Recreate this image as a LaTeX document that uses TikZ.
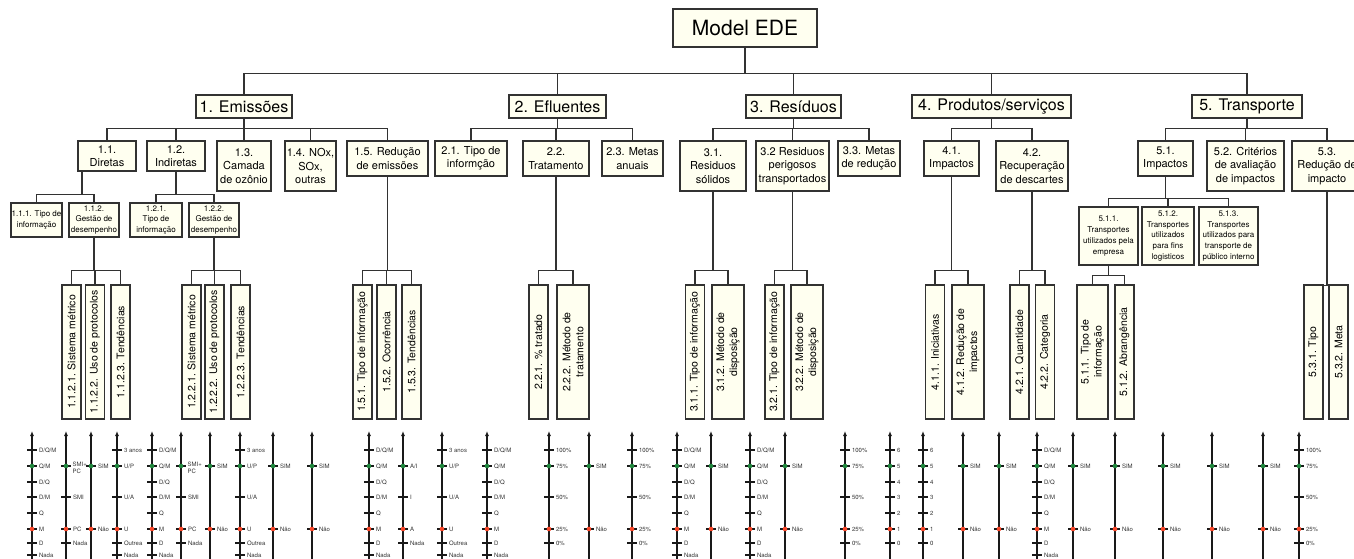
\documentclass[tikz,border=0pt]{standalone}
\usepackage{fontspec}
\setmainfont{TeX Gyre Heros}
\usepackage{tikz}
\usetikzlibrary{arrows.meta}
\definecolor{boxfill}{RGB}{255,255,240}
\definecolor{linegray}{RGB}{50,50,50}
\definecolor{dotgreen}{RGB}{30,135,60}
\definecolor{dotred}{RGB}{250,70,40}

\begin{document}
\begin{tikzpicture}[x=1pt,y=-1pt]
	\tikzstyle{every node}+=[inner sep=0pt]
	\tikzstyle{treebox}=[draw=linegray,line width=1.3pt,fill=boxfill,align=center]
	\tikzstyle{rootbox}=[treebox,font=\fontsize{21}{24}\selectfont]
	\tikzstyle{mainbox}=[treebox,minimum height=23pt,font=\fontsize{16}{18}\selectfont]
	\tikzstyle{subbox}=[treebox,font=\fontsize{11}{13.5}\selectfont]
	\tikzstyle{smallbox}=[treebox,font=\fontsize{8}{10.8}\selectfont]
	\tikzstyle{vbox}=[treebox,rotate=90,minimum width=134pt,font=\fontsize{10.5}{13}\selectfont]
	\tikzstyle{conn}=[draw=linegray,line width=1.3pt]
	\tikzstyle{scaleaxis}=[draw=black!90,line width=1.1pt,-{Latex[length=5pt,width=4pt]}]
	\tikzstyle{tickline}=[draw=black!90,line width=1.1pt]
	\tikzstyle{scalelbl}=[anchor=west,xshift=1.5pt,text=black!80,font=\fontsize{6}{7.2}\selectfont]
	\useasboundingbox (0,0) rectangle (1354,559);

	\node[rootbox,minimum width=144pt,minimum height=38pt] (root) at (745,28) {Model EDE};

	\node[mainbox,minimum width=96pt] (emi) at (244,106.5) {1. Emissões};
	\node[mainbox,minimum width=97pt] (efl) at (557.5,106.5) {2. Efluentes};
	\node[mainbox,minimum width=95pt] (res) at (793.5,106.5) {3. Resíduos};
	\node[mainbox,minimum width=159pt] (pro) at (991.5,106.5) {4. Produtos/serviços};
	\node[mainbox,minimum width=110pt] (tra) at (1247,106.5) {5. Transporte};

	\node[subbox,minimum width=58pt,minimum height=30pt] (n11) at (107,156) {1.1.\\Diretas};
	\node[subbox,minimum width=58pt,minimum height=30pt] (n12) at (176,156) {1.2.\\Indiretas};
	\node[subbox,minimum width=54pt,minimum height=50pt] (n13) at (244,166) {1.3.\\Camada\\de ozônio};
	\node[subbox,minimum width=51pt,minimum height=50pt] (n14) at (310.5,166) {1.4. NOx,\\SOx,\\outras};
	\node[subbox,minimum width=81pt,minimum height=35pt] (n15) at (387.5,158.5) {1.5. Redução\\de emissões};
	\node[subbox,minimum width=72pt,minimum height=35pt] (n21) at (471,158.5) {2.1. Tipo de\\informção};
	\node[subbox,minimum width=66pt,minimum height=35pt] (n22) at (556,158.5) {2.2.\\Tratamento};
	\node[subbox,minimum width=61pt,minimum height=35pt] (n23) at (632.5,158.5) {2.3. Metas\\anuais};
	\node[subbox,minimum width=66pt,minimum height=50pt] (n31) at (713,166) {3.1.\\Residuos\\sólidos};
	\node[subbox,minimum width=73pt,minimum height=50pt] (n32) at (792.5,166) {3.2 Residuos\\perigosos\\transportados};
	\node[subbox,minimum width=62pt,minimum height=35pt] (n33) at (869,158.5) {3.3. Metas\\de redução};
	\node[subbox,minimum width=55pt,minimum height=35pt] (n41) at (951.5,158.5) {4.1.\\Impactos};
	\node[subbox,minimum width=72pt,minimum height=50pt] (n42) at (1032,166) {4.2.\\Recuperação\\de descartes};
	\node[subbox,minimum width=55pt,minimum height=35pt] (n51) at (1165.5,158.5) {5.1.\\Impactos};
	\node[subbox,minimum width=77pt,minimum height=50pt] (n52) at (1245.5,166) {5.2. Critérios\\de avaliação\\de impactos};
	\node[subbox,minimum width=70pt,minimum height=50pt] (n53) at (1327,166) {5.3.\\Redução de\\impacto};

	\node[smallbox,minimum width=51pt,minimum height=34pt] (n111) at (36.5,220) {1.1.1. Tipo de\\informação};
	\node[smallbox,minimum width=50pt,minimum height=34pt] (n112) at (94,220) {1.1.2.\\Gestão de\\desempenho};
	\node[smallbox,minimum width=52pt,minimum height=34pt] (n121) at (156,220) {1.2.1.\\Tipo de\\informação};
	\node[smallbox,minimum width=50pt,minimum height=34pt] (n122) at (214,220) {1.2.2.\\Gestão de\\desempenho};
	\node[smallbox,minimum width=59pt,minimum height=58pt] (n511) at (1108.5,236) {5.1.1.\\Transportes\\utilizados pela\\empresa};
	\node[smallbox,minimum width=52pt,minimum height=58pt] (n512) at (1168,236) {5.1.2.\\Transportes\\utilizados\\para fins\\logisticos};
	\node[smallbox,minimum width=59pt,minimum height=58pt] (n513) at (1228.5,236) {5.1.3.\\Transportes\\utilizados para\\transporte de\\público interno};

	\node[vbox,minimum height=19pt] (v1121) at (71.5,352) {1.1.2.1. Sistema métrico};
	\node[vbox,minimum height=19pt] (v1122) at (95,352) {1.1.2.2. Uso de protocolos};
	\node[vbox,minimum height=19pt] (v1123) at (120.5,352) {1.1.2.3. Tendências};
	\node[vbox,minimum height=19pt] (v1221) at (191.5,352) {1.2.2.1. Sistema métrico};
	\node[vbox,minimum height=19pt] (v1222) at (214.5,352) {1.2.2.2. Uso de protocolos};
	\node[vbox,minimum height=19pt] (v1223) at (240.5,352) {1.2.2.3. Tendências};
	\node[vbox,minimum height=19pt] (v151) at (362.5,352) {1.5.1. Tipo de informação};
	\node[vbox,minimum height=19pt] (v152) at (386.5,352) {1.5.2. Ocorrência};
	\node[vbox,minimum height=19pt] (v153) at (411.5,352) {1.5.3. Tendências};
	\node[vbox,minimum height=19pt] (v221) at (538.5,352) {2.2.1. \% tratado};
	\node[vbox,minimum height=32pt] (v222) at (573,352) {2.2.2. Método de\\tratamento};
	\node[vbox,minimum height=19pt] (v311) at (695,352) {3.1.1. Tipo de informação};
	\node[vbox,minimum height=32pt] (v312) at (728,352) {3.1.2. Método de\\disposição};
	\node[vbox,minimum height=19pt] (v321) at (774.5,352) {3.2.1. Tipo de informação};
	\node[vbox,minimum height=32pt] (v322) at (807,352) {3.2.2. Método de\\disposição};
	\node[vbox,minimum height=19pt] (v411) at (935,352) {4.1.1. Iniciativas};
	\node[vbox,minimum height=32pt] (v412) at (968,352) {4.1.2. Redução de\\impactos};
	\node[vbox,minimum height=19pt] (v421) at (1019.5,352) {4.2.1. Quantidade};
	\node[vbox,minimum height=19pt] (v422) at (1045,352) {4.2.2. Categoria};
	\node[vbox,minimum height=31pt] (v5111) at (1092.5,352) {5.1.1. Tipo de\\informação};
	\node[vbox,minimum height=19pt] (v5112) at (1124.5,352) {5.1.2. Abrangência};
	\node[vbox,minimum height=19pt] (v531) at (1313.5,352) {5.3.1. Tipo};
	\node[vbox,minimum height=19pt] (v532) at (1338.5,352) {5.3.2. Meta};

	\foreach \c in {emi,efl,res,pro,tra}
		\draw[conn] (root.south) -- ++(0,26) -| (\c.north);
	\foreach \c in {n11,n12,n13,n14,n15}
		\draw[conn] (emi.south) -- ++(0,10) -| (\c.north);
	\foreach \c in {n21,n22,n23}
		\draw[conn] (efl.south) -- ++(0,10) -| (\c.north);
	\foreach \c in {n31,n32,n33}
		\draw[conn] (res.south) -- ++(0,10) -| (\c.north);
	\foreach \c in {n41,n42}
		\draw[conn] (pro.south) -- ++(0,10) -| (\c.north);
	\foreach \c in {n51,n52,n53}
		\draw[conn] (tra.south) -- ++(0,10) -| (\c.north);
	\foreach \c in {n111,n112}
		\draw[conn] ([xshift=-25pt]n11.south) -- ++(0,23) -| (\c.north);
	\foreach \c in {n121,n122}
		\draw[conn] (n12.south) -- ++(0,23) -| (\c.north);
	\foreach \c in {n511,n512,n513}
		\draw[conn] (n51.south) -- ++(0,22) -| (\c.north);
	\foreach \c in {v1121,v1122,v1123}
		\draw[conn] (n112.south) -- ++(0,33) -| (\c.east);
	\foreach \c in {v1221,v1222,v1223}
		\draw[conn] (n122.south) -- ++(0,33) -| (\c.east);
	\foreach \c in {v151,v152,v153}
		\draw[conn] (n15.south) -- ++(0,94) -| (\c.east);
	\foreach \c in {v221,v222}
		\draw[conn] (n22.south) -- ++(0,94) -| (\c.east);
	\foreach \c in {v311,v312}
		\draw[conn] (n31.south) -- ++(0,79) -| (\c.east);
	\foreach \c in {v321,v322}
		\draw[conn] (n32.south) -- ++(0,79) -| (\c.east);
	\foreach \c in {v411,v412}
		\draw[conn] (n41.south) -- ++(0,94) -| (\c.east);
	\foreach \c in {v421,v422}
		\draw[conn] (n42.south) -- ++(0,79) -| (\c.east);
	\foreach \c in {v5111,v5112}
		\draw[conn] (n511.south) -- ++(0,10) -| (\c.east);
	\foreach \c in {v531,v532}
		\draw[conn] (n53.south) -- ++(0,94) -| (\c.east);

	\foreach \x in {32,66,91,117,152,181,210,240,273,312,369,403,442,487,549,589,632,677,711,750,785,845,890,923,963,999,1037,1073,1115,1163,1212,1263,1299}{
		\coordinate (bot\x) at (\x,562);
		\coordinate (top\x) at (\x,431);
		\draw[scaleaxis] (bot\x) -- (top\x);
	}
	\foreach \x in {32,152,369,487,677,750,1037}
		\foreach \y/\t in {450/{D/Q/M},466/{Q/M},482/{D/Q},497/{D/M},513/Q,529/M,543/D,555/Nada}
			\draw[tickline] (\x-5,\y) -- (\x+5,\y) node[scalelbl] (l\x-\y) {\t};
	\foreach \x in {66,181}{
		\foreach \y/\t in {497/SMI,529/PC,543/Nada}
			\draw[tickline] (\x-5,\y) -- (\x+5,\y) node[scalelbl] (l\x-\y) {\t};
		\draw[tickline] (\x-5,466) -- (\x+5,466);
		\node[scalelbl,anchor=north west,align=left] (l\x-466) at (\x+5,461.5) {SMI+\\PC};
	}
	\foreach \x in {91,210,273,312,589,711,785,963,999,1073,1115,1163,1212,1263}
		\foreach \y/\t in {466/SIM,529/Não}
			\draw[tickline] (\x-5,\y) -- (\x+5,\y) node[scalelbl] (l\x-\y) {\t};
	\foreach \x in {117,240,442}
		\foreach \y/\t in {450/3 anos,466/{U/P},497/{U/A},529/U,543/Outrea,555/Nada}
			\draw[tickline] (\x-5,\y) -- (\x+5,\y) node[scalelbl] (l\x-\y) {\t};
	\foreach \x in {403}
		\foreach \y/\t in {466/{A/I},497/I,529/A,543/Nada}
			\draw[tickline] (\x-5,\y) -- (\x+5,\y) node[scalelbl] (l\x-\y) {\t};
	\foreach \x in {549,632,845,1299}
		\foreach \y/\t in {450/100\%,466/75\%,497/50\%,529/25\%,543/0\%}
			\draw[tickline] (\x-5,\y) -- (\x+5,\y) node[scalelbl] (l\x-\y) {\t};
	\foreach \x in {890,923}
		\foreach \y/\t in {450/6,466/5,482/4,497/3,513/2,529/1,543/0}
			\draw[tickline] (\x-5,\y) -- (\x+5,\y) node[scalelbl] (l\x-\y) {\t};
	\foreach \x in {32,66,91,117,152,181,210,240,273,312,369,403,442,487,549,589,632,677,711,750,785,845,890,923,963,999,1037,1073,1115,1163,1212,1263,1299}{
		\fill[dotgreen] (\x,466) circle (2.3pt);
		\fill[dotred] (\x,529) circle (2.3pt);
	}
\end{tikzpicture}
\end{document}
